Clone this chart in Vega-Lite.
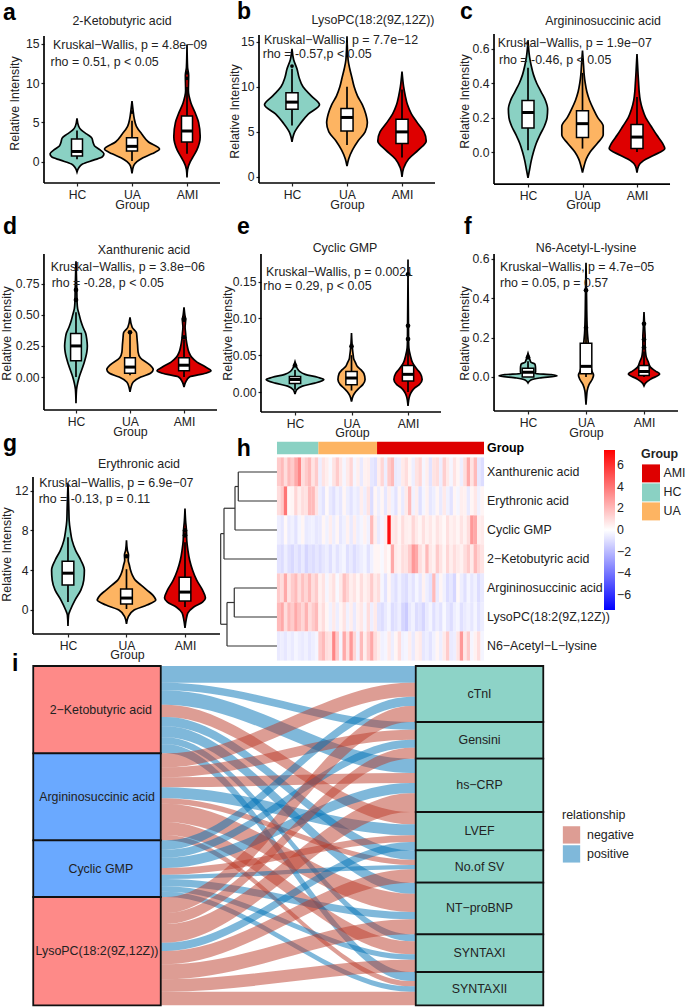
{"$schema":"https://vega.github.io/schema/vega-lite/v6.json","padding":0,"bounds":"flush","align":"none","columns":3,"spacing":0,
"resolve":{"scale":{"color":"independent","fill":"independent"},"legend":{"color":"independent","fill":"independent"}},
"config":{"font":"Liberation Sans","view":{"stroke":null},"text":{"fontSize":12.4,"color":"#222"},
"axis":{"domain":false,"grid":false,"tickColor":"#222","tickSize":3,"tickWidth":1.2,"labelFontSize":12.2,"titleFontSize":12.4,"titleFontWeight":"normal","labelColor":"#222","titleColor":"#222","labelPadding":2,"titleBaseline":"middle"},
"legend":{"labelFontSize":12.4,"titleFontSize":12.4,"titleFontWeight":"normal","labelColor":"#222","titleColor":"#222"}},
"concat":[
{"width":237,"height":230,"encoding":{"x":{"field":"x","type":"quantitative","scale":{"domain":[-0.4,3.909],"nice":false},"axis":{"offset":-48,"values":[1,2,3],"labelExpr":"datum.value==1?'HC':datum.value==2?'UA':'AMI'","title":"Group","titleX":132,"titleY":21}},"y":{"field":"y","type":"quantitative","scale":{"domain":[-8.806,20.42],"nice":false},"axis":{"offset":-44,"values":[0,5,10,15],"title":"Relative Intensity","titleX":-30,"titleY":102}}},
"layer":[
{"data":{"values":[{"g":"HC","y":-1.3,"x":1,"x2":1},{"g":"HC","y":-0.8,"x":0.97,"x2":1.03},{"g":"HC","y":-0.3,"x":0.9,"x2":1.1},{"g":"HC","y":0.2,"x":0.7,"x2":1.3},{"g":"HC","y":0.6,"x":0.54,"x2":1.46},{"g":"HC","y":1,"x":0.51,"x2":1.49},{"g":"HC","y":1.5,"x":0.58,"x2":1.42},{"g":"HC","y":2,"x":0.68,"x2":1.32},{"g":"HC","y":2.5,"x":0.71,"x2":1.29},{"g":"HC","y":3,"x":0.73,"x2":1.27},{"g":"HC","y":3.5,"x":0.82,"x2":1.18},{"g":"HC","y":4,"x":0.92,"x2":1.08},{"g":"HC","y":4.5,"x":0.97,"x2":1.03},{"g":"HC","y":5.5,"x":1,"x2":1},
{"g":"UA","y":-1.5,"x":2,"x2":2},{"g":"UA","y":-0.5,"x":1.97,"x2":2.03},{"g":"UA","y":0,"x":1.91,"x2":2.09},{"g":"UA","y":0.5,"x":1.8,"x2":2.2},{"g":"UA","y":1,"x":1.64,"x2":2.36},{"g":"UA","y":1.6,"x":1.5,"x2":2.5},{"g":"UA","y":2.5,"x":1.7,"x2":2.3},{"g":"UA","y":3.5,"x":1.82,"x2":2.18},{"g":"UA","y":4.5,"x":1.92,"x2":2.08},{"g":"UA","y":5.5,"x":1.96,"x2":2.04},{"g":"UA","y":6.5,"x":1.98,"x2":2.02},{"g":"UA","y":7.7,"x":2,"x2":2},
{"g":"AMI","y":-2,"x":3,"x2":3},{"g":"AMI","y":-1,"x":2.99,"x2":3.01},{"g":"AMI","y":0,"x":2.94,"x2":3.06},{"g":"AMI","y":0.5,"x":2.9,"x2":3.1},{"g":"AMI","y":1.5,"x":2.82,"x2":3.18},{"g":"AMI","y":3.2,"x":2.76,"x2":3.24},{"g":"AMI","y":5,"x":2.79,"x2":3.21},{"g":"AMI","y":6,"x":2.84,"x2":3.16},{"g":"AMI","y":7.5,"x":2.93,"x2":3.07},{"g":"AMI","y":9,"x":2.975,"x2":3.025},{"g":"AMI","y":11,"x":2.97,"x2":3.03},{"g":"AMI","y":12,"x":2.99,"x2":3.01},{"g":"AMI","y":14.9,"x":3,"x2":3}]},
"mark":{"type":"area","interpolate":"monotone","orient":"horizontal","stroke":"black","strokeWidth":1.7},"encoding":{"x2":{"field":"x2"},"color":{"field":"g","type":"nominal","scale":{"domain":["HC","UA","AMI"],"range":["#8AD1C3","#FDB462","#DE0000"]},"legend":null}}},
{"data":{"values":[{"x":0.4,"x2":3.6,"y":-2.706,"y2":-2.706},{"x":0.4,"x2":0.4,"y":-2.706,"y2":15.97},{"x":1,"x2":1,"y":0.3,"y2":3.95},{"x":2,"x2":2,"y":0.1,"y2":5.2},{"x":3,"x2":3,"y":1,"y2":9.5}]},"mark":{"type":"rule","color":"black","strokeWidth":1.7},"encoding":{"x2":{"field":"x2"},"y2":{"field":"y2"}}},
{"data":{"values":[{"x":0.9,"x2":1.1,"y":0.72,"y2":2.9},{"x":1.9,"x2":2.1,"y":1.35,"y2":3.05},{"x":2.9,"x2":3.1,"y":2.5,"y2":5.8}]},"mark":{"type":"rect","fill":"white","stroke":"black","strokeWidth":1.5},"encoding":{"x2":{"field":"x2"},"y2":{"field":"y2"}}},
{"data":{"values":[{"x":0.9,"x2":1.1,"y":1.3},{"x":1.9,"x2":2.1,"y":1.95},{"x":2.9,"x2":3.1,"y":3.9}]},"mark":{"type":"rule","color":"black","strokeWidth":3},"encoding":{"x2":{"field":"x2"}}},
{"data":{"values":[{"x":3,"y":11.3},{"x":3,"y":10.6},{"x":2,"y":6.3}]},"mark":{"type":"circle","color":"black","size":14,"opacity":1}},
{"data":{"values":[{"x":0.564,"y":14.83,"t":"Kruskal−Wallis, p = 4.8e−09"},{"x":0.52,"y":12.67,"t":"rho = 0.51, p < 0.05"}]},"mark":{"type":"text","align":"left","baseline":"middle"},"encoding":{"text":{"field":"t"}}},
{"data":{"values":[{"x":1.818,"y":17.88,"t":"2-Ketobutyric acid"}]},"mark":{"type":"text","align":"center","baseline":"middle"},"encoding":{"text":{"field":"t"}}},
{"data":{"values":[{"x":-0.345,"y":18,"t":"a"}]},"mark":{"type":"text","align":"left","baseline":"alphabetic","fontWeight":"bold","fontSize":23,"color":"black"},"encoding":{"text":{"field":"t"}}}]},

{"width":243,"height":230,"encoding":{"x":{"field":"x","type":"quantitative","scale":{"domain":[0,4.418],"nice":false},"axis":{"offset":-48,"values":[1,2,3],"labelExpr":"datum.value==1?'HC':datum.value==2?'UA':'AMI'","title":"Group","titleX":110,"titleY":21}},"y":{"field":"y","type":"quantitative","scale":{"domain":[-5.987,19.51],"nice":false},"axis":{"offset":-22,"values":[0,5,10,15],"title":"Relative Intensity","titleX":-25,"titleY":110}}},
"layer":[
{"data":{"values":[{"g":"HC","y":3.9,"x":1,"x2":1},{"g":"HC","y":4.5,"x":0.98,"x2":1.02},{"g":"HC","y":5,"x":0.95,"x2":1.05},{"g":"HC","y":6,"x":0.84,"x2":1.16},{"g":"HC","y":7,"x":0.7,"x2":1.3},{"g":"HC","y":8,"x":0.5,"x2":1.5},{"g":"HC","y":9,"x":0.65,"x2":1.35},{"g":"HC","y":10,"x":0.8,"x2":1.2},{"g":"HC","y":11,"x":0.87,"x2":1.13},{"g":"HC","y":12,"x":0.91,"x2":1.09},{"g":"HC","y":13,"x":0.97,"x2":1.03},{"g":"HC","y":14.2,"x":1,"x2":1},
{"g":"UA","y":1.2,"x":2,"x2":2},{"g":"UA","y":2,"x":1.97,"x2":2.03},{"g":"UA","y":3,"x":1.9,"x2":2.1},{"g":"UA","y":4,"x":1.8,"x2":2.2},{"g":"UA","y":5,"x":1.67,"x2":2.33},{"g":"UA","y":6,"x":1.63,"x2":2.37},{"g":"UA","y":7,"x":1.66,"x2":2.34},{"g":"UA","y":8,"x":1.72,"x2":2.28},{"g":"UA","y":9,"x":1.81,"x2":2.19},{"g":"UA","y":10,"x":1.87,"x2":2.13},{"g":"UA","y":11,"x":1.91,"x2":2.09},{"g":"UA","y":12,"x":1.95,"x2":2.05},{"g":"UA","y":13,"x":1.98,"x2":2.02},{"g":"UA","y":15.6,"x":2,"x2":2},
{"g":"AMI","y":0,"x":3,"x2":3},{"g":"AMI","y":1,"x":2.97,"x2":3.03},{"g":"AMI","y":2,"x":2.88,"x2":3.12},{"g":"AMI","y":3,"x":2.7,"x2":3.3},{"g":"AMI","y":4,"x":2.56,"x2":3.44},{"g":"AMI","y":5,"x":2.6,"x2":3.4},{"g":"AMI","y":6,"x":2.72,"x2":3.28},{"g":"AMI","y":7,"x":2.83,"x2":3.17},{"g":"AMI","y":8,"x":2.9,"x2":3.1},{"g":"AMI","y":9,"x":2.94,"x2":3.06},{"g":"AMI","y":10,"x":2.97,"x2":3.03},{"g":"AMI","y":11.7,"x":3,"x2":3}]},
"mark":{"type":"area","interpolate":"monotone","orient":"horizontal","stroke":"black","strokeWidth":1.7},"encoding":{"x2":{"field":"x2"},"color":{"field":"g","type":"nominal","scale":{"domain":["HC","UA","AMI"],"range":["#8AD1C3","#FDB462","#DE0000"]},"legend":null}}},
{"data":{"values":[{"x":0.4,"x2":3.6,"y":-0.665,"y2":-0.665},{"x":0.4,"x2":0.4,"y":-0.665,"y2":15.74},{"x":1,"x2":1,"y":5.7,"y2":12},{"x":2,"x2":2,"y":3.55,"y2":10},{"x":3,"x2":3,"y":2.15,"y2":9.7}]},"mark":{"type":"rule","color":"black","strokeWidth":1.7},"encoding":{"x2":{"field":"x2"},"y2":{"field":"y2"}}},
{"data":{"values":[{"x":0.89,"x2":1.11,"y":7.5,"y2":9.35},{"x":1.89,"x2":2.11,"y":5.1,"y2":7.6},{"x":2.89,"x2":3.11,"y":3.7,"y2":6.4}]},"mark":{"type":"rect","fill":"white","stroke":"black","strokeWidth":1.5},"encoding":{"x2":{"field":"x2"},"y2":{"field":"y2"}}},
{"data":{"values":[{"x":0.89,"x2":1.11,"y":8.3},{"x":1.89,"x2":2.11,"y":6.6},{"x":2.89,"x2":3.11,"y":5}]},"mark":{"type":"rule","color":"black","strokeWidth":3},"encoding":{"x2":{"field":"x2"}}},
{"data":{"values":[{"x":1,"y":12.3}]},"mark":{"type":"circle","color":"black","size":14,"opacity":1}},
{"data":{"values":[{"x":0.49,"y":15.19,"t":"Kruskal−Wallis, p = 7.7e−12"},{"x":0.47,"y":13.64,"t":"rho = -0.57,p < 0.05"}]},"mark":{"type":"text","align":"left","baseline":"middle"},"encoding":{"text":{"field":"t"}}},
{"data":{"values":[{"x":2.473,"y":17.41,"t":"LysoPC(18:2(9Z,12Z))"}]},"mark":{"type":"text","align":"center","baseline":"middle"},"encoding":{"text":{"field":"t"}}},
{"data":{"values":[{"x":0,"y":17.52,"t":"b"}]},"mark":{"type":"text","align":"left","baseline":"alphabetic","fontWeight":"bold","fontSize":23,"color":"black"},"encoding":{"text":{"field":"t"}}}]},

{"width":205,"height":230,"encoding":{"x":{"field":"x","type":"quantitative","scale":{"domain":[0.119,3.881],"nice":false},"axis":{"offset":-47,"values":[1,2,3],"labelExpr":"datum.value==1?'HC':datum.value==2?'UA':'AMI'","title":"Group","titleX":103,"titleY":20}},"y":{"field":"y","type":"quantitative","scale":{"domain":[-0.459,0.878],"nice":false},"axis":{"offset":-14,"values":[0,0.2,0.4,0.6],"format":".1f","title":"Relative Intensity","titleX":-30,"titleY":100}}},
"layer":[
{"data":{"values":[{"g":"HC","y":-0.15,"x":1,"x2":1},{"g":"HC","y":-0.1,"x":0.97,"x2":1.03},{"g":"HC","y":-0.05,"x":0.94,"x2":1.06},{"g":"HC","y":0,"x":0.9,"x2":1.1},{"g":"HC","y":0.05,"x":0.85,"x2":1.15},{"g":"HC","y":0.1,"x":0.78,"x2":1.22},{"g":"HC","y":0.15,"x":0.7,"x2":1.3},{"g":"HC","y":0.2,"x":0.65,"x2":1.35},{"g":"HC","y":0.25,"x":0.64,"x2":1.36},{"g":"HC","y":0.3,"x":0.68,"x2":1.32},{"g":"HC","y":0.35,"x":0.76,"x2":1.24},{"g":"HC","y":0.4,"x":0.84,"x2":1.16},{"g":"HC","y":0.45,"x":0.9,"x2":1.1},{"g":"HC","y":0.5,"x":0.94,"x2":1.06},{"g":"HC","y":0.55,"x":0.97,"x2":1.03},{"g":"HC","y":0.65,"x":1,"x2":1},
{"g":"UA","y":-0.12,"x":2,"x2":2},{"g":"UA","y":-0.08,"x":1.97,"x2":2.03},{"g":"UA","y":-0.04,"x":1.93,"x2":2.07},{"g":"UA","y":0,"x":1.86,"x2":2.14},{"g":"UA","y":0.05,"x":1.73,"x2":2.27},{"g":"UA","y":0.1,"x":1.62,"x2":2.38},{"g":"UA","y":0.15,"x":1.62,"x2":2.38},{"g":"UA","y":0.2,"x":1.72,"x2":2.28},{"g":"UA","y":0.25,"x":1.8,"x2":2.2},{"g":"UA","y":0.3,"x":1.87,"x2":2.13},{"g":"UA","y":0.35,"x":1.92,"x2":2.08},{"g":"UA","y":0.4,"x":1.95,"x2":2.05},{"g":"UA","y":0.45,"x":1.97,"x2":2.03},{"g":"UA","y":0.5,"x":1.98,"x2":2.02},{"g":"UA","y":0.59,"x":2,"x2":2},
{"g":"AMI","y":-0.12,"x":3,"x2":3},{"g":"AMI","y":-0.08,"x":2.97,"x2":3.03},{"g":"AMI","y":-0.05,"x":2.88,"x2":3.12},{"g":"AMI","y":-0.02,"x":2.7,"x2":3.3},{"g":"AMI","y":0.02,"x":2.49,"x2":3.51},{"g":"AMI","y":0.05,"x":2.53,"x2":3.47},{"g":"AMI","y":0.1,"x":2.64,"x2":3.36},{"g":"AMI","y":0.15,"x":2.74,"x2":3.26},{"g":"AMI","y":0.2,"x":2.84,"x2":3.16},{"g":"AMI","y":0.25,"x":2.9,"x2":3.1},{"g":"AMI","y":0.3,"x":2.94,"x2":3.06},{"g":"AMI","y":0.35,"x":2.96,"x2":3.04},{"g":"AMI","y":0.4,"x":2.97,"x2":3.03},{"g":"AMI","y":0.45,"x":2.98,"x2":3.02},{"g":"AMI","y":0.57,"x":3,"x2":3}]},
"mark":{"type":"area","interpolate":"monotone","orient":"horizontal","stroke":"black","strokeWidth":1.7},"encoding":{"x2":{"field":"x2"},"color":{"field":"g","type":"nominal","scale":{"domain":["HC","UA","AMI"],"range":["#8AD1C3","#FDB462","#DE0000"]},"legend":null}}},
{"data":{"values":[{"x":0.376,"x2":3.606,"y":-0.186,"y2":-0.186},{"x":0.376,"x2":0.376,"y":-0.186,"y2":0.686},{"x":1,"x2":1,"y":0.01,"y2":0.49},{"x":2,"x2":2,"y":0.02,"y2":0.46},{"x":3,"x2":3,"y":0,"y2":0.32}]},"mark":{"type":"rule","color":"black","strokeWidth":1.7},"encoding":{"x2":{"field":"x2"},"y2":{"field":"y2"}}},
{"data":{"values":[{"x":0.89,"x2":1.11,"y":0.14,"y2":0.3},{"x":1.89,"x2":2.11,"y":0.085,"y2":0.24},{"x":2.89,"x2":3.11,"y":0.02,"y2":0.16}]},"mark":{"type":"rect","fill":"white","stroke":"black","strokeWidth":1.5},"encoding":{"x2":{"field":"x2"},"y2":{"field":"y2"}}},
{"data":{"values":[{"x":0.89,"x2":1.11,"y":0.23},{"x":1.89,"x2":2.11,"y":0.165},{"x":2.89,"x2":3.11,"y":0.087}]},"mark":{"type":"rule","color":"black","strokeWidth":3},"encoding":{"x2":{"field":"x2"}}},
{"data":{"values":[{"x":0.444,"y":0.635,"t":"Kruskal−Wallis, p = 1.9e−07"},{"x":0.468,"y":0.535,"t":"rho = -0.46, p < 0.05"}]},"mark":{"type":"text","align":"left","baseline":"middle"},"encoding":{"text":{"field":"t"}}},
{"data":{"values":[{"x":2.376,"y":0.762,"t":"Argininosuccinic acid"}]},"mark":{"type":"text","align":"center","baseline":"middle"},"encoding":{"text":{"field":"t"}}},
{"data":{"values":[{"x":-0.248,"y":0.773,"t":"c"}]},"mark":{"type":"text","align":"left","baseline":"alphabetic","fontWeight":"bold","fontSize":23,"color":"black"},"encoding":{"text":{"field":"t"}}}]},

{"width":237,"height":230,"encoding":{"x":{"field":"x","type":"quantitative","scale":{"domain":[-0.407,3.981],"nice":false},"axis":{"offset":-51,"values":[1,2,3],"labelExpr":"datum.value==1?'HC':datum.value==2?'UA':'AMI'","title":"Group","titleX":130,"titleY":21}},"y":{"field":"y","type":"quantitative","scale":{"domain":[-0.675,1.174],"nice":false},"axis":{"offset":-44,"values":[0,0.25,0.5,0.75],"format":".2f","title":"Relative Intensity","titleX":-38,"titleY":102}}},
"layer":[
{"data":{"values":[{"g":"HC","y":-0.21,"x":1,"x2":1},{"g":"HC","y":-0.1,"x":0.99,"x2":1.01},{"g":"HC","y":-0.05,"x":0.97,"x2":1.03},{"g":"HC","y":0,"x":0.94,"x2":1.06},{"g":"HC","y":0.1,"x":0.86,"x2":1.14},{"g":"HC","y":0.2,"x":0.8,"x2":1.2},{"g":"HC","y":0.25,"x":0.79,"x2":1.21},{"g":"HC","y":0.3,"x":0.8,"x2":1.2},{"g":"HC","y":0.35,"x":0.82,"x2":1.18},{"g":"HC","y":0.4,"x":0.87,"x2":1.13},{"g":"HC","y":0.45,"x":0.91,"x2":1.09},{"g":"HC","y":0.5,"x":0.94,"x2":1.06},{"g":"HC","y":0.55,"x":0.97,"x2":1.03},{"g":"HC","y":0.6,"x":0.98,"x2":1.02},{"g":"HC","y":0.7,"x":0.985,"x2":1.015},{"g":"HC","y":0.93,"x":1,"x2":1},
{"g":"UA","y":-0.12,"x":2,"x2":2},{"g":"UA","y":-0.08,"x":1.98,"x2":2.02},{"g":"UA","y":-0.04,"x":1.94,"x2":2.06},{"g":"UA","y":0,"x":1.8,"x2":2.2},{"g":"UA","y":0.03,"x":1.62,"x2":2.38},{"g":"UA","y":0.06,"x":1.57,"x2":2.43},{"g":"UA","y":0.1,"x":1.64,"x2":2.36},{"g":"UA","y":0.155,"x":1.81,"x2":2.19},{"g":"UA","y":0.2,"x":1.85,"x2":2.15},{"g":"UA","y":0.26,"x":1.86,"x2":2.14},{"g":"UA","y":0.31,"x":1.87,"x2":2.13},{"g":"UA","y":0.355,"x":1.88,"x2":2.12},{"g":"UA","y":0.4,"x":1.96,"x2":2.04},{"g":"UA","y":0.48,"x":2,"x2":2},
{"g":"AMI","y":-0.08,"x":3,"x2":3},{"g":"AMI","y":-0.04,"x":2.97,"x2":3.03},{"g":"AMI","y":0,"x":2.9,"x2":3.1},{"g":"AMI","y":0.03,"x":2.6,"x2":3.4},{"g":"AMI","y":0.05,"x":2.5,"x2":3.5},{"g":"AMI","y":0.08,"x":2.6,"x2":3.4},{"g":"AMI","y":0.12,"x":2.76,"x2":3.24},{"g":"AMI","y":0.16,"x":2.86,"x2":3.14},{"g":"AMI","y":0.2,"x":2.91,"x2":3.09},{"g":"AMI","y":0.25,"x":2.94,"x2":3.06},{"g":"AMI","y":0.3,"x":2.96,"x2":3.04},{"g":"AMI","y":0.35,"x":2.97,"x2":3.03},{"g":"AMI","y":0.4,"x":2.98,"x2":3.02},{"g":"AMI","y":0.46,"x":2.97,"x2":3.03},{"g":"AMI","y":0.5,"x":2.985,"x2":3.015},{"g":"AMI","y":0.56,"x":3,"x2":3}]},
"mark":{"type":"area","interpolate":"monotone","orient":"horizontal","stroke":"black","strokeWidth":1.7},"encoding":{"x2":{"field":"x2"},"color":{"field":"g","type":"nominal","scale":{"domain":["HC","UA","AMI"],"range":["#8AD1C3","#FDB462","#DE0000"]},"legend":null}}},
{"data":{"values":[{"x":0.407,"x2":3.611,"y":-0.265,"y2":-0.265},{"x":0.407,"x2":0.407,"y":-0.265,"y2":0.989},{"x":1,"x2":1,"y":0,"y2":0.52},{"x":2,"x2":2,"y":0.015,"y2":0.36},{"x":3,"x2":3,"y":0,"y2":0.3}]},"mark":{"type":"rule","color":"black","strokeWidth":1.7},"encoding":{"x2":{"field":"x2"},"y2":{"field":"y2"}}},
{"data":{"values":[{"x":0.9,"x2":1.1,"y":0.13,"y2":0.35},{"x":1.9,"x2":2.1,"y":0.03,"y2":0.155},{"x":2.9,"x2":3.1,"y":0.05,"y2":0.155}]},"mark":{"type":"rect","fill":"white","stroke":"black","strokeWidth":1.5},"encoding":{"x2":{"field":"x2"},"y2":{"field":"y2"}}},
{"data":{"values":[{"x":0.9,"x2":1.1,"y":0.25},{"x":1.9,"x2":2.1,"y":0.08},{"x":2.9,"x2":3.1,"y":0.095}]},"mark":{"type":"rule","color":"black","strokeWidth":3},"encoding":{"x2":{"field":"x2"}}},
{"data":{"values":[{"x":2,"y":0.36},{"x":3,"y":0.32},{"x":3,"y":0.46},{"x":3,"y":0.47},{"x":1,"y":0.62},{"x":1,"y":0.7}]},"mark":{"type":"circle","color":"black","size":22,"opacity":1}},
{"data":{"values":[{"x":0.531,"y":0.887,"t":"Kruskal−Wallis, p = 3.8e−06"},{"x":0.55,"y":0.758,"t":"rho = -0.28, p < 0.05"}]},"mark":{"type":"text","align":"left","baseline":"middle"},"encoding":{"text":{"field":"t"}}},
{"data":{"values":[{"x":2.259,"y":1.021,"t":"Xanthurenic acid"}]},"mark":{"type":"text","align":"center","baseline":"middle"},"encoding":{"text":{"field":"t"}}},
{"data":{"values":[{"x":-0.352,"y":1.15,"t":"d"}]},"mark":{"type":"text","align":"left","baseline":"alphabetic","fontWeight":"bold","fontSize":23,"color":"black"},"encoding":{"text":{"field":"t"}}}]},

{"width":243,"height":230,"encoding":{"x":{"field":"x","type":"quantitative","scale":{"domain":[-0.0265,4.274],"nice":false},"axis":{"offset":-49,"values":[1,2,3],"labelExpr":"datum.value==1?'HC':datum.value==2?'UA':'AMI'","title":"Group","titleX":115,"titleY":20}},"y":{"field":"y","type":"quantitative","scale":{"domain":[-0.09375,0.21875],"nice":false},"axis":{"offset":-24,"values":[0,0.05,0.1,0.15],"format":".2f","title":"Relative Intensity","titleX":-34,"titleY":102}}},
"layer":[
{"data":{"values":[{"g":"HC","y":-0.003,"x":1,"x2":1},{"g":"HC","y":0.003,"x":0.97,"x2":1.03},{"g":"HC","y":0.008,"x":0.87,"x2":1.13},{"g":"HC","y":0.012,"x":0.65,"x2":1.35},{"g":"HC","y":0.017,"x":0.49,"x2":1.51},{"g":"HC","y":0.02,"x":0.6,"x2":1.4},{"g":"HC","y":0.024,"x":0.82,"x2":1.18},{"g":"HC","y":0.028,"x":0.92,"x2":1.08},{"g":"HC","y":0.032,"x":0.96,"x2":1.04},{"g":"HC","y":0.036,"x":0.98,"x2":1.02},{"g":"HC","y":0.041,"x":1,"x2":1},
{"g":"UA","y":-0.013,"x":2,"x2":2},{"g":"UA","y":-0.005,"x":1.97,"x2":2.03},{"g":"UA","y":0,"x":1.93,"x2":2.07},{"g":"UA","y":0.005,"x":1.87,"x2":2.13},{"g":"UA","y":0.01,"x":1.8,"x2":2.2},{"g":"UA","y":0.017,"x":1.76,"x2":2.24},{"g":"UA","y":0.025,"x":1.78,"x2":2.22},{"g":"UA","y":0.03,"x":1.83,"x2":2.17},{"g":"UA","y":0.035,"x":1.9,"x2":2.1},{"g":"UA","y":0.04,"x":1.93,"x2":2.07},{"g":"UA","y":0.045,"x":1.96,"x2":2.04},{"g":"UA","y":0.05,"x":1.97,"x2":2.03},{"g":"UA","y":0.06,"x":1.985,"x2":2.015},{"g":"UA","y":0.08,"x":2,"x2":2},
{"g":"AMI","y":-0.019,"x":3,"x2":3},{"g":"AMI","y":-0.012,"x":2.99,"x2":3.01},{"g":"AMI","y":-0.005,"x":2.97,"x2":3.03},{"g":"AMI","y":0,"x":2.94,"x2":3.06},{"g":"AMI","y":0.005,"x":2.89,"x2":3.11},{"g":"AMI","y":0.01,"x":2.8,"x2":3.2},{"g":"AMI","y":0.017,"x":2.75,"x2":3.25},{"g":"AMI","y":0.025,"x":2.78,"x2":3.22},{"g":"AMI","y":0.03,"x":2.83,"x2":3.17},{"g":"AMI","y":0.035,"x":2.88,"x2":3.12},{"g":"AMI","y":0.04,"x":2.92,"x2":3.08},{"g":"AMI","y":0.05,"x":2.96,"x2":3.04},{"g":"AMI","y":0.06,"x":2.985,"x2":3.015},{"g":"AMI","y":0.07,"x":2.99,"x2":3.01},{"g":"AMI","y":0.18,"x":3,"x2":3}]},
"mark":{"type":"area","interpolate":"monotone","orient":"horizontal","stroke":"black","strokeWidth":1.7},"encoding":{"x2":{"field":"x2"},"color":{"field":"g","type":"nominal","scale":{"domain":["HC","UA","AMI"],"range":["#8AD1C3","#FDB462","#DE0000"]},"legend":null}}},
{"data":{"values":[{"x":0.398,"x2":3.584,"y":-0.0272,"y2":-0.0272},{"x":0.398,"x2":0.398,"y":-0.0272,"y2":0.1875},{"x":1,"x2":1,"y":0.003,"y2":0.03},{"x":2,"x2":2,"y":0.002,"y2":0.05},{"x":3,"x2":3,"y":0,"y2":0.06}]},"mark":{"type":"rule","color":"black","strokeWidth":1.7},"encoding":{"x2":{"field":"x2"},"y2":{"field":"y2"}}},
{"data":{"values":[{"x":0.9,"x2":1.1,"y":0.0115,"y2":0.021},{"x":1.9,"x2":2.1,"y":0.01,"y2":0.028},{"x":2.9,"x2":3.1,"y":0.015,"y2":0.036}]},"mark":{"type":"rect","fill":"white","stroke":"black","strokeWidth":1.5},"encoding":{"x2":{"field":"x2"},"y2":{"field":"y2"}}},
{"data":{"values":[{"x":0.9,"x2":1.1,"y":0.017},{"x":1.9,"x2":2.1,"y":0.019},{"x":2.9,"x2":3.1,"y":0.024}]},"mark":{"type":"rule","color":"black","strokeWidth":3},"encoding":{"x2":{"field":"x2"}}},
{"data":{"values":[{"x":1,"y":0.036},{"x":2,"y":0.062},{"x":3,"y":0.072},{"x":3,"y":0.09},{"x":3,"y":0.16}]},"mark":{"type":"circle","color":"black","size":22,"opacity":1}},
{"data":{"values":[{"x":0.487,"y":0.163,"t":"Kruskal−Wallis, p = 0.0021"},{"x":0.44,"y":0.1436,"t":"rho = 0.29, p < 0.05"}]},"mark":{"type":"text","align":"left","baseline":"middle"},"encoding":{"text":{"field":"t"}}},
{"data":{"values":[{"x":1.885,"y":0.196,"t":"Cyclic GMP"}]},"mark":{"type":"text","align":"center","baseline":"middle"},"encoding":{"text":{"field":"t"}}},
{"data":{"values":[{"x":-0.0265,"y":0.2147,"t":"e"}]},"mark":{"type":"text","align":"left","baseline":"alphabetic","fontWeight":"bold","fontSize":23,"color":"black"},"encoding":{"text":{"field":"t"}}}]},

{"width":205,"height":230,"encoding":{"x":{"field":"x","type":"quantitative","scale":{"domain":[0.172,3.707],"nice":false},"axis":{"offset":-50,"values":[1,2,3],"labelExpr":"datum.value==1?'HC':datum.value==2?'UA':'AMI'","title":"Group","titleX":106,"titleY":21}},"y":{"field":"y","type":"quantitative","scale":{"domain":[-0.4264,0.741],"nice":false},"axis":{"offset":-14,"values":[0,0.2,0.4,0.6],"format":".1f","title":"Relative Intensity","titleX":-30,"titleY":102}}},
"layer":[
{"data":{"values":[{"g":"HC","y":-0.03,"x":1,"x2":1},{"g":"HC","y":-0.015,"x":0.95,"x2":1.05},{"g":"HC","y":-0.005,"x":0.8,"x2":1.2},{"g":"HC","y":0.005,"x":0.5,"x2":1.5},{"g":"HC","y":0.012,"x":0.6,"x2":1.4},{"g":"HC","y":0.018,"x":0.88,"x2":1.12},{"g":"HC","y":0.025,"x":0.87,"x2":1.13},{"g":"HC","y":0.045,"x":0.87,"x2":1.13},{"g":"HC","y":0.065,"x":0.88,"x2":1.12},{"g":"HC","y":0.075,"x":0.95,"x2":1.05},{"g":"HC","y":0.09,"x":0.97,"x2":1.03},{"g":"HC","y":0.1,"x":0.98,"x2":1.02},{"g":"HC","y":0.12,"x":1,"x2":1},
{"g":"UA","y":-0.14,"x":2,"x2":2},{"g":"UA","y":-0.1,"x":1.99,"x2":2.01},{"g":"UA","y":-0.07,"x":1.98,"x2":2.02},{"g":"UA","y":-0.04,"x":1.95,"x2":2.05},{"g":"UA","y":-0.01,"x":1.89,"x2":2.11},{"g":"UA","y":0.01,"x":1.87,"x2":2.13},{"g":"UA","y":0.03,"x":1.9,"x2":2.1},{"g":"UA","y":0.06,"x":1.92,"x2":2.08},{"g":"UA","y":0.1,"x":1.94,"x2":2.06},{"g":"UA","y":0.17,"x":1.96,"x2":2.04},{"g":"UA","y":0.22,"x":1.975,"x2":2.025},{"g":"UA","y":0.3,"x":1.985,"x2":2.015},{"g":"UA","y":0.4,"x":1.99,"x2":2.01},{"g":"UA","y":0.58,"x":2,"x2":2},
{"g":"AMI","y":-0.045,"x":3,"x2":3},{"g":"AMI","y":-0.03,"x":2.97,"x2":3.03},{"g":"AMI","y":-0.01,"x":2.88,"x2":3.12},{"g":"AMI","y":0.015,"x":2.73,"x2":3.27},{"g":"AMI","y":0.03,"x":2.8,"x2":3.2},{"g":"AMI","y":0.05,"x":2.89,"x2":3.11},{"g":"AMI","y":0.08,"x":2.93,"x2":3.07},{"g":"AMI","y":0.1,"x":2.96,"x2":3.04},{"g":"AMI","y":0.13,"x":2.975,"x2":3.025},{"g":"AMI","y":0.16,"x":2.98,"x2":3.02},{"g":"AMI","y":0.2,"x":2.98,"x2":3.02},{"g":"AMI","y":0.25,"x":2.988,"x2":3.012},{"g":"AMI","y":0.33,"x":3,"x2":3}]},
"mark":{"type":"area","interpolate":"monotone","orient":"horizontal","stroke":"black","strokeWidth":1.7},"encoding":{"x2":{"field":"x2"},"color":{"field":"g","type":"nominal","scale":{"domain":["HC","UA","AMI"],"range":["#8AD1C3","#FDB462","#DE0000"]},"legend":null}}},
{"data":{"values":[{"x":0.414,"x2":3.586,"y":-0.1726,"y2":-0.1726},{"x":0.414,"x2":0.414,"y":-0.1726,"y2":0.624},{"x":1,"x2":1,"y":0,"y2":0.08},{"x":2,"x2":2,"y":0,"y2":0.4},{"x":3,"x2":3,"y":0,"y2":0.13}]},"mark":{"type":"rule","color":"black","strokeWidth":1.7},"encoding":{"x2":{"field":"x2"},"y2":{"field":"y2"}}},
{"data":{"values":[{"x":0.9,"x2":1.1,"y":0,"y2":0.045},{"x":1.9,"x2":2.1,"y":0.017,"y2":0.171},{"x":2.91,"x2":3.09,"y":0.007,"y2":0.058}]},"mark":{"type":"rect","fill":"white","stroke":"black","strokeWidth":1.5},"encoding":{"x2":{"field":"x2"},"y2":{"field":"y2"}}},
{"data":{"values":[{"x":0.9,"x2":1.1,"y":0.024},{"x":1.9,"x2":2.1,"y":0.054},{"x":2.91,"x2":3.09,"y":0.028}]},"mark":{"type":"rule","color":"black","strokeWidth":3},"encoding":{"x2":{"field":"x2"}}},
{"data":{"values":[{"x":1,"y":0.1},{"x":2,"y":0.44},{"x":2,"y":0.25},{"x":3,"y":0.27},{"x":3,"y":0.19},{"x":3,"y":0.15}]},"mark":{"type":"circle","color":"black","size":22,"opacity":1}},
{"data":{"values":[{"x":0.517,"y":0.56,"t":"Kruskal−Wallis, p = 4.7e−05"},{"x":0.517,"y":0.479,"t":"rho = 0.05,  p = 0.57"}]},"mark":{"type":"text","align":"left","baseline":"middle"},"encoding":{"text":{"field":"t"}}},
{"data":{"values":[{"x":2,"y":0.656,"t":"N6-Acetyl-L-lysine"}]},"mark":{"type":"text","align":"center","baseline":"middle"},"encoding":{"text":{"field":"t"}}},
{"data":{"values":[{"x":-0.103,"y":0.726,"t":"f"}]},"mark":{"type":"text","align":"left","baseline":"alphabetic","fontWeight":"bold","fontSize":23,"color":"black"},"encoding":{"text":{"field":"t"}}}]},

{"width":237,"height":200,"encoding":{"x":{"field":"x","type":"quantitative","scale":{"domain":[-0.162,3.889],"nice":false},"axis":{"offset":-27,"values":[1,2,3],"labelExpr":"datum.value==1?'HC':datum.value==2?'UA':'AMI'","title":"Group","titleX":127,"titleY":20}},"y":{"field":"y","type":"quantitative","scale":{"domain":[-5.126,14.975],"nice":false},"axis":{"offset":-33,"values":[0,4,8,12],"title":"Relative Intensity","titleX":-27,"titleY":93}}},
"layer":[
{"data":{"values":[{"g":"HC","y":-1.6,"x":1,"x2":1},{"g":"HC","y":-0.5,"x":0.99,"x2":1.01},{"g":"HC","y":0,"x":0.96,"x2":1.04},{"g":"HC","y":1,"x":0.88,"x2":1.12},{"g":"HC","y":2,"x":0.78,"x2":1.22},{"g":"HC","y":3,"x":0.73,"x2":1.27},{"g":"HC","y":4,"x":0.72,"x2":1.28},{"g":"HC","y":5,"x":0.78,"x2":1.22},{"g":"HC","y":6,"x":0.87,"x2":1.13},{"g":"HC","y":7,"x":0.93,"x2":1.07},{"g":"HC","y":8,"x":0.96,"x2":1.04},{"g":"HC","y":9,"x":0.98,"x2":1.02},{"g":"HC","y":10,"x":0.985,"x2":1.015},{"g":"HC","y":11,"x":0.99,"x2":1.01},{"g":"HC","y":12.7,"x":1,"x2":1},
{"g":"UA","y":-1.4,"x":2,"x2":2},{"g":"UA","y":-0.7,"x":1.97,"x2":2.03},{"g":"UA","y":0,"x":1.87,"x2":2.13},{"g":"UA","y":0.5,"x":1.65,"x2":2.35},{"g":"UA","y":1,"x":1.5,"x2":2.5},{"g":"UA","y":1.5,"x":1.55,"x2":2.45},{"g":"UA","y":2,"x":1.65,"x2":2.35},{"g":"UA","y":2.5,"x":1.75,"x2":2.25},{"g":"UA","y":3,"x":1.85,"x2":2.15},{"g":"UA","y":3.5,"x":1.9,"x2":2.1},{"g":"UA","y":4,"x":1.93,"x2":2.07},{"g":"UA","y":4.5,"x":1.95,"x2":2.05},{"g":"UA","y":5,"x":1.97,"x2":2.03},{"g":"UA","y":5.5,"x":1.965,"x2":2.035},{"g":"UA","y":6,"x":1.985,"x2":2.015},{"g":"UA","y":7,"x":2,"x2":2},
{"g":"AMI","y":-1.8,"x":3,"x2":3},{"g":"AMI","y":-1,"x":2.98,"x2":3.02},{"g":"AMI","y":-0.3,"x":2.95,"x2":3.05},{"g":"AMI","y":0.3,"x":2.85,"x2":3.15},{"g":"AMI","y":0.8,"x":2.7,"x2":3.3},{"g":"AMI","y":1.2,"x":2.65,"x2":3.35},{"g":"AMI","y":2,"x":2.7,"x2":3.3},{"g":"AMI","y":3,"x":2.8,"x2":3.2},{"g":"AMI","y":4,"x":2.87,"x2":3.13},{"g":"AMI","y":5,"x":2.92,"x2":3.08},{"g":"AMI","y":6,"x":2.95,"x2":3.05},{"g":"AMI","y":7,"x":2.97,"x2":3.03},{"g":"AMI","y":8,"x":2.975,"x2":3.025},{"g":"AMI","y":9,"x":2.99,"x2":3.01},{"g":"AMI","y":10.2,"x":3,"x2":3}]},
"mark":{"type":"area","interpolate":"monotone","orient":"horizontal","stroke":"black","strokeWidth":1.7},"encoding":{"x2":{"field":"x2"},"color":{"field":"g","type":"nominal","scale":{"domain":["HC","UA","AMI"],"range":["#8AD1C3","#FDB462","#DE0000"]},"legend":null}}},
{"data":{"values":[{"x":0.402,"x2":3.598,"y":-2.412,"y2":-2.412},{"x":0.402,"x2":0.402,"y":-2.412,"y2":13.37},{"x":1,"x2":1,"y":0.8,"y2":7.3},{"x":2,"x2":2,"y":0.1,"y2":4.1},{"x":3,"x2":3,"y":0.3,"y2":6.8}]},"mark":{"type":"rule","color":"black","strokeWidth":1.7},"encoding":{"x2":{"field":"x2"},"y2":{"field":"y2"}}},
{"data":{"values":[{"x":0.9,"x2":1.1,"y":2.5,"y2":4.9},{"x":1.9,"x2":2.1,"y":0.6,"y2":2.1},{"x":2.9,"x2":3.1,"y":0.9,"y2":3.3}]},"mark":{"type":"rect","fill":"white","stroke":"black","strokeWidth":1.5},"encoding":{"x2":{"field":"x2"},"y2":{"field":"y2"}}},
{"data":{"values":[{"x":0.9,"x2":1.1,"y":3.7},{"x":1.9,"x2":2.1,"y":1.2},{"x":2.9,"x2":3.1,"y":1.8}]},"mark":{"type":"rule","color":"black","strokeWidth":3},"encoding":{"x2":{"field":"x2"}}},
{"data":{"values":[{"x":2,"y":5.4},{"x":3,"y":7.5},{"x":3,"y":8}]},"mark":{"type":"circle","color":"black","size":22,"opacity":1}},
{"data":{"values":[{"x":0.509,"y":12.76,"t":"Kruskal−Wallis, p = 6.9e−07"},{"x":0.499,"y":11.19,"t":"rho = -0.13,  p = 0.11"}]},"mark":{"type":"text","align":"left","baseline":"middle"},"encoding":{"text":{"field":"t"}}},
{"data":{"values":[{"x":2.214,"y":14.67,"t":"Erythronic acid"}]},"mark":{"type":"text","align":"center","baseline":"middle"},"encoding":{"text":{"field":"t"}}},
{"data":{"values":[{"x":-0.111,"y":15.98,"t":"g"}]},"mark":{"type":"text","align":"left","baseline":"alphabetic","fontWeight":"bold","fontSize":23,"color":"black"},"encoding":{"text":{"field":"t"}}}]},

{"width":243,"height":200,"encoding":{"x":{"field":"x","type":"quantitative","scale":{"domain":[-12.09,58.34],"nice":false},"axis":null},"y":{"field":"y","type":"quantitative","scale":{"domain":[7.517,0.6207],"nice":false},"axis":null}},
"layer":[
{"data":{"values":[
{"x":0,"y":1,"v":1.5},{"x":1,"y":1,"v":2},{"x":2,"y":1,"v":1},{"x":3,"y":1,"v":2},{"x":4,"y":1,"v":1.5},{"x":5,"y":1,"v":2.5},{"x":6,"y":1,"v":3.5},{"x":7,"y":1,"v":1},{"x":8,"y":1,"v":1.5},{"x":9,"y":1,"v":2},{"x":10,"y":1,"v":0.8},{"x":11,"y":1,"v":1.5},{"x":12,"y":1,"v":-0.5},{"x":13,"y":1,"v":0.8},{"x":14,"y":1,"v":0.5},{"x":15,"y":1,"v":-0.2},{"x":16,"y":1,"v":0.8},{"x":17,"y":1,"v":1.5},{"x":18,"y":1,"v":0.7},{"x":19,"y":1,"v":-0.3},{"x":20,"y":1,"v":0.6},{"x":21,"y":1,"v":1.2},{"x":22,"y":1,"v":-0.3},{"x":23,"y":1,"v":0.5},{"x":24,"y":1,"v":-0.6},{"x":25,"y":1,"v":0.4},{"x":26,"y":1,"v":0.5},{"x":27,"y":1,"v":-0.7},{"x":28,"y":1,"v":-0.9},{"x":29,"y":1,"v":0.5},{"x":30,"y":1,"v":1.2},{"x":31,"y":1,"v":-0.5},{"x":32,"y":1,"v":1.5},{"x":33,"y":1,"v":2},{"x":34,"y":1,"v":-0.6},{"x":35,"y":1,"v":-0.5},{"x":36,"y":1,"v":0.6},{"x":37,"y":1,"v":1},{"x":38,"y":1,"v":0.3},{"x":39,"y":1,"v":-0.5},{"x":40,"y":1,"v":0.8},{"x":41,"y":1,"v":1.2},{"x":42,"y":1,"v":-0.3},{"x":43,"y":1,"v":0.5},{"x":44,"y":1,"v":-0.8},{"x":45,"y":1,"v":0.8},{"x":46,"y":1,"v":1},{"x":47,"y":1,"v":-0.5},{"x":48,"y":1,"v":1.4},{"x":49,"y":1,"v":0.6},{"x":50,"y":1,"v":-0.3},{"x":51,"y":1,"v":0.8},{"x":52,"y":1,"v":0.3},{"x":53,"y":1,"v":-0.5},{"x":54,"y":1,"v":1},{"x":55,"y":1,"v":2.5},{"x":56,"y":1,"v":0.8},{"x":57,"y":1,"v":2},{"x":58,"y":1,"v":-0.7},{"x":59,"y":1,"v":-1},
{"x":0,"y":2,"v":1},{"x":1,"y":2,"v":1.5},{"x":2,"y":2,"v":4},{"x":3,"y":2,"v":0.2},{"x":4,"y":2,"v":0.3},{"x":5,"y":2,"v":1.2},{"x":6,"y":2,"v":0.5},{"x":7,"y":2,"v":1},{"x":8,"y":2,"v":0.8},{"x":9,"y":2,"v":2},{"x":10,"y":2,"v":2},{"x":11,"y":2,"v":0.8},{"x":12,"y":2,"v":-0.5},{"x":13,"y":2,"v":-0.8},{"x":14,"y":2,"v":0.2},{"x":15,"y":2,"v":-0.6},{"x":16,"y":2,"v":-0.9},{"x":17,"y":2,"v":-0.4},{"x":18,"y":2,"v":-0.7},{"x":19,"y":2,"v":0.3},{"x":20,"y":2,"v":-0.5},{"x":21,"y":2,"v":-0.8},{"x":22,"y":2,"v":-0.4},{"x":23,"y":2,"v":-0.6},{"x":24,"y":2,"v":0.5},{"x":25,"y":2,"v":-0.5},{"x":26,"y":2,"v":0.8},{"x":27,"y":2,"v":-1},{"x":28,"y":2,"v":0.3},{"x":29,"y":2,"v":-0.5},{"x":30,"y":2,"v":0.3},{"x":31,"y":2,"v":-0.7},{"x":32,"y":2,"v":0.5},{"x":33,"y":2,"v":-0.4},{"x":34,"y":2,"v":-0.8},{"x":35,"y":2,"v":0.3},{"x":36,"y":2,"v":-0.6},{"x":37,"y":2,"v":0.6},{"x":38,"y":2,"v":2},{"x":39,"y":2,"v":-0.4},{"x":40,"y":2,"v":0.5},{"x":41,"y":2,"v":-0.9},{"x":42,"y":2,"v":-0.3},{"x":43,"y":2,"v":0.4},{"x":44,"y":2,"v":-0.7},{"x":45,"y":2,"v":-0.5},{"x":46,"y":2,"v":0.3},{"x":47,"y":2,"v":-0.6},{"x":48,"y":2,"v":0.6},{"x":49,"y":2,"v":-0.4},{"x":50,"y":2,"v":-0.8},{"x":51,"y":2,"v":0.3},{"x":52,"y":2,"v":-0.3},{"x":53,"y":2,"v":0.5},{"x":54,"y":2,"v":0.4},{"x":55,"y":2,"v":-0.6},{"x":56,"y":2,"v":0.3},{"x":57,"y":2,"v":0.7},{"x":58,"y":2,"v":-0.4},{"x":59,"y":2,"v":0.3},
{"x":0,"y":3,"v":-0.5},{"x":1,"y":3,"v":-0.7},{"x":2,"y":3,"v":0.2},{"x":3,"y":3,"v":-0.6},{"x":4,"y":3,"v":-0.4},{"x":5,"y":3,"v":-0.8},{"x":6,"y":3,"v":-0.3},{"x":7,"y":3,"v":0.3},{"x":8,"y":3,"v":-0.6},{"x":9,"y":3,"v":-0.5},{"x":10,"y":3,"v":-0.4},{"x":11,"y":3,"v":-0.7},{"x":12,"y":3,"v":-0.6},{"x":13,"y":3,"v":0.3},{"x":14,"y":3,"v":-0.4},{"x":15,"y":3,"v":0.5},{"x":16,"y":3,"v":-0.5},{"x":17,"y":3,"v":0.3},{"x":18,"y":3,"v":-0.7},{"x":19,"y":3,"v":-0.4},{"x":20,"y":3,"v":0.4},{"x":21,"y":3,"v":-0.6},{"x":22,"y":3,"v":0.5},{"x":23,"y":3,"v":-0.5},{"x":24,"y":3,"v":-0.3},{"x":25,"y":3,"v":0.4},{"x":26,"y":3,"v":-0.4},{"x":27,"y":3,"v":2},{"x":28,"y":3,"v":0.5},{"x":29,"y":3,"v":-0.6},{"x":30,"y":3,"v":-0.3},{"x":31,"y":3,"v":0.5},{"x":32,"y":3,"v":7},{"x":33,"y":3,"v":0.6},{"x":34,"y":3,"v":0.8},{"x":35,"y":3,"v":0.3},{"x":36,"y":3,"v":1},{"x":37,"y":3,"v":0.5},{"x":38,"y":3,"v":0.4},{"x":39,"y":3,"v":1.2},{"x":40,"y":3,"v":0.6},{"x":41,"y":3,"v":0.3},{"x":42,"y":3,"v":0.9},{"x":43,"y":3,"v":0.4},{"x":44,"y":3,"v":0.7},{"x":45,"y":3,"v":0.3},{"x":46,"y":3,"v":0.8},{"x":47,"y":3,"v":0.5},{"x":48,"y":3,"v":0.2},{"x":49,"y":3,"v":0.9},{"x":50,"y":3,"v":0.4},{"x":51,"y":3,"v":0.6},{"x":52,"y":3,"v":0.3},{"x":53,"y":3,"v":0.8},{"x":54,"y":3,"v":0.4},{"x":55,"y":3,"v":1},{"x":56,"y":3,"v":3},{"x":57,"y":3,"v":2.5},{"x":58,"y":3,"v":0.5},{"x":59,"y":3,"v":0.6},
{"x":0,"y":4,"v":-0.8},{"x":1,"y":4,"v":-1},{"x":2,"y":4,"v":-0.5},{"x":3,"y":4,"v":-0.9},{"x":4,"y":4,"v":-1.1},{"x":5,"y":4,"v":-0.7},{"x":6,"y":4,"v":-1},{"x":7,"y":4,"v":-0.6},{"x":8,"y":4,"v":-1.2},{"x":9,"y":4,"v":-0.8},{"x":10,"y":4,"v":-1},{"x":11,"y":4,"v":-0.7},{"x":12,"y":4,"v":-1},{"x":13,"y":4,"v":-0.7},{"x":14,"y":4,"v":-0.5},{"x":15,"y":4,"v":-0.9},{"x":16,"y":4,"v":-0.4},{"x":17,"y":4,"v":-0.8},{"x":18,"y":4,"v":-0.5},{"x":19,"y":4,"v":-0.3},{"x":20,"y":4,"v":-0.9},{"x":21,"y":4,"v":-0.6},{"x":22,"y":4,"v":-1},{"x":23,"y":4,"v":-0.7},{"x":24,"y":4,"v":-0.5},{"x":25,"y":4,"v":-0.3},{"x":26,"y":4,"v":-0.8},{"x":27,"y":4,"v":-0.4},{"x":28,"y":4,"v":0.3},{"x":29,"y":4,"v":0.3},{"x":30,"y":4,"v":-0.2},{"x":31,"y":4,"v":0.5},{"x":32,"y":4,"v":0.2},{"x":33,"y":4,"v":2.5},{"x":34,"y":4,"v":0.6},{"x":35,"y":4,"v":0.4},{"x":36,"y":4,"v":1},{"x":37,"y":4,"v":0.8},{"x":38,"y":4,"v":1.5},{"x":39,"y":4,"v":3},{"x":40,"y":4,"v":2.5},{"x":41,"y":4,"v":1},{"x":42,"y":4,"v":0.5},{"x":43,"y":4,"v":2},{"x":44,"y":4,"v":0.7},{"x":45,"y":4,"v":0.4},{"x":46,"y":4,"v":1.5},{"x":47,"y":4,"v":0.8},{"x":48,"y":4,"v":0.3},{"x":49,"y":4,"v":1.2},{"x":50,"y":4,"v":0.5},{"x":51,"y":4,"v":1},{"x":52,"y":4,"v":0.6},{"x":53,"y":4,"v":0.4},{"x":54,"y":4,"v":1},{"x":55,"y":4,"v":1.5},{"x":56,"y":4,"v":0.6},{"x":57,"y":4,"v":2},{"x":58,"y":4,"v":1.2},{"x":59,"y":4,"v":0.8},
{"x":0,"y":5,"v":1.5},{"x":1,"y":5,"v":1},{"x":2,"y":5,"v":2.5},{"x":3,"y":5,"v":0.8},{"x":4,"y":5,"v":1.5},{"x":5,"y":5,"v":2},{"x":6,"y":5,"v":1},{"x":7,"y":5,"v":1.8},{"x":8,"y":5,"v":1.2},{"x":9,"y":5,"v":2},{"x":10,"y":5,"v":1},{"x":11,"y":5,"v":1.5},{"x":12,"y":5,"v":0.4},{"x":13,"y":5,"v":0.8},{"x":14,"y":5,"v":-0.3},{"x":15,"y":5,"v":0.5},{"x":16,"y":5,"v":0.9},{"x":17,"y":5,"v":-0.2},{"x":18,"y":5,"v":0.6},{"x":19,"y":5,"v":1.8},{"x":20,"y":5,"v":1.2},{"x":21,"y":5,"v":0.5},{"x":22,"y":5,"v":0.8},{"x":23,"y":5,"v":0.3},{"x":24,"y":5,"v":1},{"x":25,"y":5,"v":0.4},{"x":26,"y":5,"v":0.7},{"x":27,"y":5,"v":1.5},{"x":28,"y":5,"v":0.6},{"x":29,"y":5,"v":1},{"x":30,"y":5,"v":-0.3},{"x":31,"y":5,"v":-0.8},{"x":32,"y":5,"v":0.3},{"x":33,"y":5,"v":-0.6},{"x":34,"y":5,"v":-0.9},{"x":35,"y":5,"v":-0.4},{"x":36,"y":5,"v":-0.8},{"x":37,"y":5,"v":-1},{"x":38,"y":5,"v":-0.5},{"x":39,"y":5,"v":-0.8},{"x":40,"y":5,"v":-0.3},{"x":41,"y":5,"v":-0.7},{"x":42,"y":5,"v":0.4},{"x":43,"y":5,"v":-0.5},{"x":44,"y":5,"v":-0.8},{"x":45,"y":5,"v":2},{"x":46,"y":5,"v":-0.6},{"x":47,"y":5,"v":0.3},{"x":48,"y":5,"v":-0.4},{"x":49,"y":5,"v":-1},{"x":50,"y":5,"v":-0.7},{"x":51,"y":5,"v":-1.2},{"x":52,"y":5,"v":0.2},{"x":53,"y":5,"v":-0.5},{"x":54,"y":5,"v":-0.9},{"x":55,"y":5,"v":-0.3},{"x":56,"y":5,"v":-0.7},{"x":57,"y":5,"v":-0.4},{"x":58,"y":5,"v":-1},{"x":59,"y":5,"v":-0.6},
{"x":0,"y":6,"v":2},{"x":1,"y":6,"v":2.5},{"x":2,"y":6,"v":1},{"x":3,"y":6,"v":2},{"x":4,"y":6,"v":1.5},{"x":5,"y":6,"v":2.5},{"x":6,"y":6,"v":1.8},{"x":7,"y":6,"v":1.2},{"x":8,"y":6,"v":2.2},{"x":9,"y":6,"v":1},{"x":10,"y":6,"v":1.5},{"x":11,"y":6,"v":2},{"x":12,"y":6,"v":0.5},{"x":13,"y":6,"v":1},{"x":14,"y":6,"v":0.3},{"x":15,"y":6,"v":-0.4},{"x":16,"y":6,"v":0.6},{"x":17,"y":6,"v":-0.5},{"x":18,"y":6,"v":0.3},{"x":19,"y":6,"v":0.8},{"x":20,"y":6,"v":-0.4},{"x":21,"y":6,"v":0.5},{"x":22,"y":6,"v":-0.6},{"x":23,"y":6,"v":0.4},{"x":24,"y":6,"v":0.7},{"x":25,"y":6,"v":-0.3},{"x":26,"y":6,"v":1},{"x":27,"y":6,"v":-0.5},{"x":28,"y":6,"v":0.6},{"x":29,"y":6,"v":-0.8},{"x":30,"y":6,"v":-1},{"x":31,"y":6,"v":-0.6},{"x":32,"y":6,"v":-0.3},{"x":33,"y":6,"v":-1},{"x":34,"y":6,"v":-0.8},{"x":35,"y":6,"v":-0.5},{"x":36,"y":6,"v":-1.2},{"x":37,"y":6,"v":-1.5},{"x":38,"y":6,"v":-0.7},{"x":39,"y":6,"v":-0.4},{"x":40,"y":6,"v":-1},{"x":41,"y":6,"v":-0.8},{"x":42,"y":6,"v":-1.2},{"x":43,"y":6,"v":-0.6},{"x":44,"y":6,"v":-0.3},{"x":45,"y":6,"v":-0.9},{"x":46,"y":6,"v":-0.5},{"x":47,"y":6,"v":-0.8},{"x":48,"y":6,"v":-0.2},{"x":49,"y":6,"v":-0.7},{"x":50,"y":6,"v":-1},{"x":51,"y":6,"v":-0.5},{"x":52,"y":6,"v":-0.3},{"x":53,"y":6,"v":-0.9},{"x":54,"y":6,"v":-0.6},{"x":55,"y":6,"v":-0.4},{"x":56,"y":6,"v":-0.7},{"x":57,"y":6,"v":-0.3},{"x":58,"y":6,"v":-0.8},{"x":59,"y":6,"v":-0.5},
{"x":0,"y":7,"v":-0.6},{"x":1,"y":7,"v":-0.5},{"x":2,"y":7,"v":-0.7},{"x":3,"y":7,"v":-0.4},{"x":4,"y":7,"v":-0.6},{"x":5,"y":7,"v":-0.3},{"x":6,"y":7,"v":-0.5},{"x":7,"y":7,"v":-0.6},{"x":8,"y":7,"v":-0.4},{"x":9,"y":7,"v":-0.7},{"x":10,"y":7,"v":-0.5},{"x":11,"y":7,"v":-0.3},{"x":12,"y":7,"v":1.5},{"x":13,"y":7,"v":2},{"x":14,"y":7,"v":1},{"x":15,"y":7,"v":0.8},{"x":16,"y":7,"v":3.5},{"x":17,"y":7,"v":1.5},{"x":18,"y":7,"v":-0.3},{"x":19,"y":7,"v":2.5},{"x":20,"y":7,"v":1},{"x":21,"y":7,"v":3},{"x":22,"y":7,"v":1.2},{"x":23,"y":7,"v":-0.4},{"x":24,"y":7,"v":2},{"x":25,"y":7,"v":0.5},{"x":26,"y":7,"v":1.5},{"x":27,"y":7,"v":2.5},{"x":28,"y":7,"v":1},{"x":29,"y":7,"v":0.5},{"x":30,"y":7,"v":-0.4},{"x":31,"y":7,"v":-0.3},{"x":32,"y":7,"v":0.6},{"x":33,"y":7,"v":-0.5},{"x":34,"y":7,"v":0.3},{"x":35,"y":7,"v":1},{"x":36,"y":7,"v":-0.4},{"x":37,"y":7,"v":-0.3},{"x":38,"y":7,"v":0.5},{"x":39,"y":7,"v":-0.6},{"x":40,"y":7,"v":0.4},{"x":41,"y":7,"v":0.6},{"x":42,"y":7,"v":-0.7},{"x":43,"y":7,"v":-0.5},{"x":44,"y":7,"v":-0.8},{"x":45,"y":7,"v":-0.4},{"x":46,"y":7,"v":0.3},{"x":47,"y":7,"v":-0.5},{"x":48,"y":7,"v":0.6},{"x":49,"y":7,"v":1.5},{"x":50,"y":7,"v":-0.6},{"x":51,"y":7,"v":-0.5},{"x":52,"y":7,"v":0.8},{"x":53,"y":7,"v":3},{"x":54,"y":7,"v":0.7},{"x":55,"y":7,"v":1.5},{"x":56,"y":7,"v":-0.3},{"x":57,"y":7,"v":0.4},{"x":58,"y":7,"v":1},{"x":59,"y":7,"v":-0.3}]},
"mark":{"type":"rect","width":3.6,"height":29.2},"encoding":{"color":{"field":"v","type":"quantitative","scale":{"domain":[-7.4,0,7.4],"range":["#0000ff","#ffffff","#ff0000"],"interpolate":"rgb"},"legend":{"orient":"none","legendX":367,"legendY":-11,"title":null,"gradientLength":160,"gradientThickness":11,"values":[-6,-4,-2,0,2,4,6],"gradientStrokeWidth":0}}}},
{"data":{"values":[{"x":-0.5,"x2":11.5,"y":-0.045,"y2":0.39,"g":"HC"},{"x":11.5,"x2":28.5,"y":-0.045,"y2":0.39,"g":"UA"},{"x":28.5,"x2":59.5,"y":-0.045,"y2":0.39,"g":"AMI"}]},"mark":{"type":"rect"},"encoding":{"x2":{"field":"x2"},"y2":{"field":"y2"},"fill":{"field":"g","type":"nominal","title":"Group","scale":{"domain":["AMI","HC","UA"],"range":["#DE0000","#8AD1C3","#FDB462"]},"legend":{"orient":"none","legendX":404,"legendY":-13,"symbolType":"square","symbolSize":324,"rowPadding":0,"labelOffset":2.5,"symbolOpacity":1,"titlePadding":3,"titleFontWeight":"bold"}}}},
{"data":{"values":[{"x":-11.72,"x2":-0.5,"y":1,"y2":1},{"x":-11.72,"x2":-0.5,"y":2,"y2":2},{"x":-11.72,"x2":-11.72,"y":1,"y2":2},{"x":-12.67,"x2":-11.72,"y":1.5,"y2":1.5},{"x":-12.67,"x2":-0.5,"y":3,"y2":3},{"x":-12.67,"x2":-12.67,"y":1.5,"y2":3},{"x":-15.86,"x2":-12.67,"y":2.25,"y2":2.25},{"x":-15.86,"x2":-0.5,"y":4,"y2":4},{"x":-15.86,"x2":-15.86,"y":2.25,"y2":4},{"x":-16.82,"x2":-15.86,"y":3.125,"y2":3.125},{"x":-12.88,"x2":-0.5,"y":5,"y2":5},{"x":-12.88,"x2":-0.5,"y":6,"y2":6},{"x":-12.88,"x2":-12.88,"y":5,"y2":6},{"x":-14.99,"x2":-12.88,"y":5.5,"y2":5.5},{"x":-14.99,"x2":-0.5,"y":7,"y2":7},{"x":-14.99,"x2":-14.99,"y":5.5,"y2":7},{"x":-16.82,"x2":-14.99,"y":6.25,"y2":6.25},{"x":-16.82,"x2":-16.82,"y":3.125,"y2":6.25}]},"mark":{"type":"rule","color":"#333","strokeWidth":1.2},"encoding":{"x2":{"field":"x2"},"y2":{"field":"y2"}}},
{"data":{"values":[{"x":60.37,"y":1,"t":"Xanthurenic acid"},{"x":60.37,"y":2,"t":"Erythronic acid"},{"x":60.37,"y":3,"t":"Cyclic GMP"},{"x":60.37,"y":4,"t":"2−Ketobutyric acid"},{"x":60.37,"y":5,"t":"Argininosuccinic acid"},{"x":60.37,"y":6,"t":"LysoPC(18:2(9Z,12Z))"},{"x":60.37,"y":7,"t":"N6−Acetyl−L−lysine"}]},"mark":{"type":"text","align":"left","baseline":"middle"},"encoding":{"text":{"field":"t"}}},
{"data":{"values":[{"x":60.37,"y":0.172,"t":"Group"}]},"mark":{"type":"text","align":"left","baseline":"middle","fontWeight":"bold","color":"black"},"encoding":{"text":{"field":"t"}}},
{"data":{"values":[{"x":-12.18,"y":0.448,"t":"h"}]},"mark":{"type":"text","align":"left","baseline":"alphabetic","fontWeight":"bold","fontSize":23,"color":"black"},"encoding":{"text":{"field":"t"}}}]},

{"width":205,"height":200,"data":{"values":[]},"mark":"point"},

{"width":237,"height":347,"encoding":{"x":{"field":"x","type":"quantitative","scale":{"domain":[0.7464,1.366],"nice":false},"axis":null},"y":{"field":"y","type":"quantitative","scale":{"domain":[1071,30],"nice":false},"axis":null}},
"layer":[
{"data":{"values":[
{"f":"K1","r":"positive","x":1.1667,"y":45,"y2":95},{"f":"K1","r":"positive","x":1.18,"y":45,"y2":95},{"f":"K1","r":"positive","x":1.82,"y":45,"y2":95},{"f":"K1","r":"positive","x":1.8333,"y":45,"y2":95},
{"f":"K2","r":"positive","x":1.1667,"y":95,"y2":118},{"f":"K2","r":"positive","x":1.18,"y":95,"y2":118},{"f":"K2","r":"positive","x":1.82,"y":213,"y2":236},{"f":"K2","r":"positive","x":1.8333,"y":213,"y2":236},
{"f":"K3","r":"positive","x":1.1667,"y":118,"y2":161},{"f":"K3","r":"positive","x":1.18,"y":118,"y2":161},{"f":"K3","r":"positive","x":1.82,"y":323,"y2":366},{"f":"K3","r":"positive","x":1.8333,"y":323,"y2":366},
{"f":"K4","r":"negative","x":1.1667,"y":161,"y2":198},{"f":"K4","r":"negative","x":1.18,"y":161,"y2":198},{"f":"K4","r":"negative","x":1.82,"y":483,"y2":520},{"f":"K4","r":"negative","x":1.8333,"y":483,"y2":520},
{"f":"K5","r":"positive","x":1.1667,"y":198,"y2":226},{"f":"K5","r":"positive","x":1.18,"y":198,"y2":226},{"f":"K5","r":"positive","x":1.82,"y":598,"y2":626},{"f":"K5","r":"positive","x":1.8333,"y":598,"y2":626},
{"f":"K6","r":"positive","x":1.1667,"y":226,"y2":259},{"f":"K6","r":"positive","x":1.18,"y":226,"y2":259},{"f":"K6","r":"positive","x":1.82,"y":695,"y2":728},{"f":"K6","r":"positive","x":1.8333,"y":695,"y2":728},
{"f":"K7","r":"positive","x":1.1667,"y":259,"y2":280},{"f":"K7","r":"positive","x":1.18,"y":259,"y2":280},{"f":"K7","r":"positive","x":1.82,"y":850,"y2":871},{"f":"K7","r":"positive","x":1.8333,"y":850,"y2":871},
{"f":"K8","r":"positive","x":1.1667,"y":280,"y2":307},{"f":"K8","r":"positive","x":1.18,"y":280,"y2":307},{"f":"K8","r":"positive","x":1.82,"y":963,"y2":990},{"f":"K8","r":"positive","x":1.8333,"y":963,"y2":990},
{"f":"A1","r":"negative","x":1.1667,"y":307,"y2":349},{"f":"A1","r":"negative","x":1.18,"y":307,"y2":349},{"f":"A1","r":"negative","x":1.82,"y":95,"y2":137},{"f":"A1","r":"negative","x":1.8333,"y":95,"y2":137},
{"f":"A2","r":"negative","x":1.1667,"y":349,"y2":379},{"f":"A2","r":"negative","x":1.18,"y":349,"y2":379},{"f":"A2","r":"negative","x":1.82,"y":236,"y2":266},{"f":"A2","r":"negative","x":1.8333,"y":236,"y2":266},
{"f":"A3","r":"negative","x":1.1667,"y":379,"y2":409},{"f":"A3","r":"negative","x":1.18,"y":379,"y2":409},{"f":"A3","r":"negative","x":1.82,"y":366,"y2":396},{"f":"A3","r":"negative","x":1.8333,"y":366,"y2":396},
{"f":"A4","r":"positive","x":1.1667,"y":409,"y2":442},{"f":"A4","r":"positive","x":1.18,"y":409,"y2":442},{"f":"A4","r":"positive","x":1.82,"y":520,"y2":553},{"f":"A4","r":"positive","x":1.8333,"y":520,"y2":553},
{"f":"A5","r":"negative","x":1.1667,"y":442,"y2":458},{"f":"A5","r":"negative","x":1.18,"y":442,"y2":458},{"f":"A5","r":"negative","x":1.82,"y":626,"y2":642},{"f":"A5","r":"negative","x":1.8333,"y":626,"y2":642},
{"f":"A6","r":"negative","x":1.1667,"y":458,"y2":513},{"f":"A6","r":"negative","x":1.18,"y":458,"y2":513},{"f":"A6","r":"negative","x":1.82,"y":728,"y2":783},{"f":"A6","r":"negative","x":1.8333,"y":728,"y2":783},
{"f":"A7","r":"negative","x":1.1667,"y":513,"y2":552},{"f":"A7","r":"negative","x":1.18,"y":513,"y2":552},{"f":"A7","r":"negative","x":1.82,"y":871,"y2":910},{"f":"A7","r":"negative","x":1.8333,"y":871,"y2":910},
{"f":"A8","r":"negative","x":1.1667,"y":552,"y2":568},{"f":"A8","r":"negative","x":1.18,"y":552,"y2":568},{"f":"A8","r":"negative","x":1.82,"y":990,"y2":1006},{"f":"A8","r":"negative","x":1.8333,"y":990,"y2":1006},
{"f":"C1","r":"positive","x":1.1667,"y":568,"y2":596},{"f":"C1","r":"positive","x":1.18,"y":568,"y2":596},{"f":"C1","r":"positive","x":1.82,"y":137,"y2":165},{"f":"C1","r":"positive","x":1.8333,"y":137,"y2":165},
{"f":"C2","r":"positive","x":1.1667,"y":596,"y2":620},{"f":"C2","r":"positive","x":1.18,"y":596,"y2":620},{"f":"C2","r":"positive","x":1.82,"y":266,"y2":290},{"f":"C2","r":"positive","x":1.8333,"y":266,"y2":290},
{"f":"C3","r":"positive","x":1.1667,"y":620,"y2":651},{"f":"C3","r":"positive","x":1.18,"y":620,"y2":651},{"f":"C3","r":"positive","x":1.82,"y":396,"y2":427},{"f":"C3","r":"positive","x":1.8333,"y":396,"y2":427},
{"f":"C4","r":"negative","x":1.1667,"y":651,"y2":671},{"f":"C4","r":"negative","x":1.18,"y":651,"y2":671},{"f":"C4","r":"negative","x":1.82,"y":553,"y2":573},{"f":"C4","r":"negative","x":1.8333,"y":553,"y2":573},
{"f":"C5","r":"positive","x":1.1667,"y":671,"y2":684},{"f":"C5","r":"positive","x":1.18,"y":671,"y2":684},{"f":"C5","r":"positive","x":1.82,"y":642,"y2":655},{"f":"C5","r":"positive","x":1.8333,"y":642,"y2":655},
{"f":"C6","r":"positive","x":1.1667,"y":684,"y2":706},{"f":"C6","r":"positive","x":1.18,"y":684,"y2":706},{"f":"C6","r":"positive","x":1.82,"y":783,"y2":805},{"f":"C6","r":"positive","x":1.8333,"y":783,"y2":805},
{"f":"C7","r":"positive","x":1.1667,"y":706,"y2":722},{"f":"C7","r":"positive","x":1.18,"y":706,"y2":722},{"f":"C7","r":"positive","x":1.82,"y":910,"y2":926},{"f":"C7","r":"positive","x":1.8333,"y":910,"y2":926},
{"f":"C8","r":"positive","x":1.1667,"y":722,"y2":738},{"f":"C8","r":"positive","x":1.18,"y":722,"y2":738},{"f":"C8","r":"positive","x":1.82,"y":1006,"y2":1022},{"f":"C8","r":"positive","x":1.8333,"y":1006,"y2":1022},
{"f":"L1","r":"negative","x":1.1667,"y":738,"y2":786},{"f":"L1","r":"negative","x":1.18,"y":738,"y2":786},{"f":"L1","r":"negative","x":1.82,"y":165,"y2":213},{"f":"L1","r":"negative","x":1.8333,"y":165,"y2":213},
{"f":"L2","r":"negative","x":1.1667,"y":786,"y2":819},{"f":"L2","r":"negative","x":1.18,"y":786,"y2":819},{"f":"L2","r":"negative","x":1.82,"y":290,"y2":323},{"f":"L2","r":"negative","x":1.8333,"y":290,"y2":323},
{"f":"L3","r":"negative","x":1.1667,"y":819,"y2":875},{"f":"L3","r":"negative","x":1.18,"y":819,"y2":875},{"f":"L3","r":"negative","x":1.82,"y":427,"y2":483},{"f":"L3","r":"negative","x":1.8333,"y":427,"y2":483},
{"f":"L4","r":"positive","x":1.1667,"y":875,"y2":900},{"f":"L4","r":"positive","x":1.18,"y":875,"y2":900},{"f":"L4","r":"positive","x":1.82,"y":573,"y2":598},{"f":"L4","r":"positive","x":1.8333,"y":573,"y2":598},
{"f":"L5","r":"negative","x":1.1667,"y":900,"y2":940},{"f":"L5","r":"negative","x":1.18,"y":900,"y2":940},{"f":"L5","r":"negative","x":1.82,"y":655,"y2":695},{"f":"L5","r":"negative","x":1.8333,"y":655,"y2":695},
{"f":"L6","r":"negative","x":1.1667,"y":940,"y2":985},{"f":"L6","r":"negative","x":1.18,"y":940,"y2":985},{"f":"L6","r":"negative","x":1.82,"y":805,"y2":850},{"f":"L6","r":"negative","x":1.8333,"y":805,"y2":850},
{"f":"L7","r":"negative","x":1.1667,"y":985,"y2":1022},{"f":"L7","r":"negative","x":1.18,"y":985,"y2":1022},{"f":"L7","r":"negative","x":1.82,"y":926,"y2":963},{"f":"L7","r":"negative","x":1.8333,"y":926,"y2":963},
{"f":"L8","r":"negative","x":1.1667,"y":1022,"y2":1063},{"f":"L8","r":"negative","x":1.18,"y":1022,"y2":1063},{"f":"L8","r":"negative","x":1.82,"y":1022,"y2":1063},{"f":"L8","r":"negative","x":1.8333,"y":1022,"y2":1063}]},
"mark":{"type":"area","interpolate":"monotone","opacity":0.5},"encoding":{"y2":{"field":"y2"},"detail":{"field":"f"},"color":{"field":"r","type":"nominal","title":"relationship","scale":{"domain":["negative","positive"],"range":["#BC3C29","#0072B5"]},"legend":{"orient":"none","legendX":562,"legendY":148,"symbolType":"square","symbolSize":300,"symbolOpacity":0.5,"rowPadding":0,"labelOffset":6,"titlePadding":4}}}},
{"data":{"values":[{"x":0.8333,"x2":1.1667,"y":45,"y2":307,"k":"up"},{"x":0.8333,"x2":1.1667,"y":307,"y2":568,"k":"down"},{"x":0.8333,"x2":1.1667,"y":568,"y2":738,"k":"down"},{"x":0.8333,"x2":1.1667,"y":738,"y2":1063,"k":"up"},{"x":1.8333,"x2":2.1667,"y":45,"y2":213,"k":"clinical"},{"x":1.8333,"x2":2.1667,"y":213,"y2":323,"k":"clinical"},{"x":1.8333,"x2":2.1667,"y":323,"y2":483,"k":"clinical"},{"x":1.8333,"x2":2.1667,"y":483,"y2":598,"k":"clinical"},{"x":1.8333,"x2":2.1667,"y":598,"y2":695,"k":"clinical"},{"x":1.8333,"x2":2.1667,"y":695,"y2":850,"k":"clinical"},{"x":1.8333,"x2":2.1667,"y":850,"y2":963,"k":"clinical"},{"x":1.8333,"x2":2.1667,"y":963,"y2":1063,"k":"clinical"}]},"mark":{"type":"rect","stroke":"#111","strokeWidth":1.8},"encoding":{"x2":{"field":"x2"},"y2":{"field":"y2"},"fill":{"field":"k","type":"nominal","scale":{"domain":["up","down","clinical"],"range":["#FE8A88","#6AA9FF","#8DD3C7"]},"legend":null}}},
{"data":{"values":[{"x":1.01,"y":177,"t":"2−Ketobutyric acid"},{"x":1,"y":437,"t":"Argininosuccinic acid"},{"x":1.01,"y":653,"t":"Cyclic GMP"},{"x":1,"y":900,"t":"LysoPC(18:2(9Z,12Z))"},{"x":2,"y":130,"t":"cTnI"},{"x":2,"y":268,"t":"Gensini"},{"x":2,"y":403,"t":"hs−CRP"},{"x":2,"y":541,"t":"LVEF"},{"x":2,"y":647,"t":"No.of SV"},{"x":2,"y":771,"t":"NT−proBNP"},{"x":2,"y":905,"t":"SYNTAXI"},{"x":2,"y":1013,"t":"SYNTAXII"}]},"mark":{"type":"text","align":"center","baseline":"middle"},"encoding":{"text":{"field":"t"}}},
{"data":{"values":[{"x":0.7778,"y":60,"t":"i"}]},"mark":{"type":"text","align":"left","baseline":"alphabetic","fontWeight":"bold","fontSize":23,"color":"black"},"encoding":{"text":{"field":"t"}}}]}
]}
